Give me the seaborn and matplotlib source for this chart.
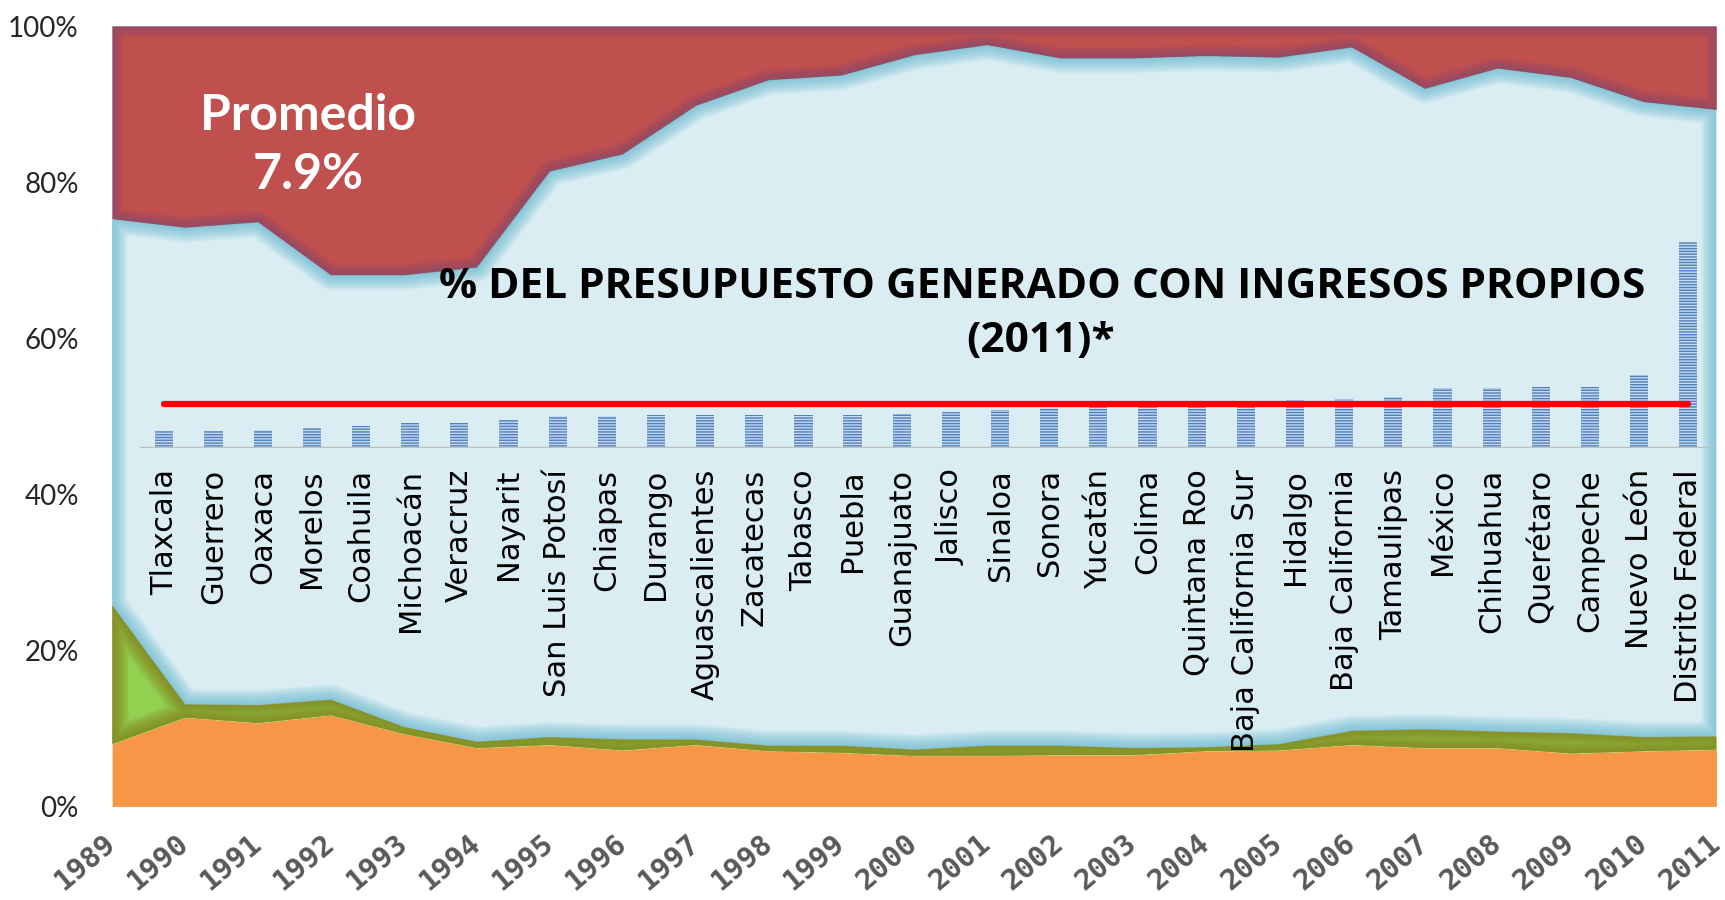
import numpy as np
import matplotlib
matplotlib.use("Agg")
from matplotlib import pyplot as plt
from matplotlib.patches import PathPatch
from matplotlib.ticker import PercentFormatter
import seaborn as sns

# shares of the budget by year (stacked to 100%)
years = list(range(1989, 2012))
orange = [8.0, 11.4, 10.7, 11.7, 9.3, 7.5, 7.9, 7.2, 7.9, 7.1, 6.9, 6.5,
          6.5, 6.6, 6.6, 7.1, 7.2, 7.9, 7.5, 7.5, 6.8, 7.1, 7.3]
green = [17.8, 1.7, 2.3, 2.0, 0.9, 0.8, 1.0, 1.4, 0.7, 0.7, 0.9, 0.8,
         1.3, 1.2, 0.9, 0.5, 0.8, 1.8, 2.4, 2.1, 2.6, 1.8, 1.7]
blue = [49.5, 61.1, 61.9, 54.4, 57.9, 60.8, 72.5, 75.0, 81.2, 85.3, 85.9, 89.0,
        89.8, 88.1, 88.4, 88.6, 88.0, 87.6, 82.1, 85.0, 84.0, 81.4, 80.3]
red = [24.7, 25.8, 25.1, 31.9, 31.9, 30.9, 18.6, 16.4, 10.2, 6.9, 6.3, 3.7,
       2.4, 4.1, 4.1, 3.8, 4.0, 2.7, 8.0, 5.4, 6.6, 9.7, 10.7]

# % del presupuesto generado con ingresos propios (2011)
states = ['Tlaxcala', 'Guerrero', 'Oaxaca', 'Morelos', 'Coahuila', 'Michoacán',
          'Veracruz', 'Nayarit', 'San Luis Potosí', 'Chiapas', 'Durango',
          'Aguascalientes', 'Zacatecas', 'Tabasco', 'Puebla', 'Guanajuato',
          'Jalisco', 'Sinaloa', 'Sonora', 'Yucatán', 'Colima', 'Quintana Roo',
          'Baja California Sur', 'Hidalgo', 'Baja California', 'Tamaulipas',
          'México', 'Chihuahua', 'Querétaro', 'Campeche', 'Nuevo León',
          'Distrito Federal']
own_income = [3.1, 3.1, 3.3, 3.7, 4.0, 4.6, 4.6, 5.0, 5.7, 5.8, 5.9, 5.9,
              5.9, 6.0, 6.0, 6.1, 6.5, 6.9, 7.3, 7.8, 7.9, 8.0, 8.4, 8.6,
              8.9, 9.2, 10.8, 10.8, 10.95, 10.95, 13.1, 37.1]

sns.set_theme(style='white')
plt.rcParams['font.family'] = ['DejaVu Sans']
plt.rcParams['hatch.linewidth'] = 1.0

fig = plt.figure(figsize=(17.25, 9), dpi=100)

# background: stacked area
ax = fig.add_axes([0.065, 0.104, 0.93, 0.867])
layers = ax.stackplot(years, orange, green, blue, red,
                      colors=['#F79646', '#92D050', '#DAEDF3', '#C0504D'], lw=0)


# soft inner shadow along each area's outline
def inner_glow(coll, color, alpha, max_w, steps=14):
    path = coll.get_paths()[0]
    for w in np.linspace(max_w, 1.5, steps):
        p = PathPatch(path, fill=False, edgecolor=color, lw=w, alpha=alpha,
                      joinstyle='round')
        ax.add_patch(p)
        p.set_clip_path(path, ax.transData)


inner_glow(layers[1], '#857f1c', 0.09, 24)
inner_glow(layers[2], '#62b8d0', 0.07, 22)
inner_glow(layers[3], '#7a4a80', 0.05, 16)

ax.set_xlim(1989, 2011)
ax.set_ylim(0, 100)
ax.set_yticks(range(0, 101, 20))
ax.yaxis.set_major_formatter(PercentFormatter(decimals=0))
ax.set_xticks(years)
ax.tick_params(axis='y', length=0, pad=24, labelsize=20)
ax.tick_params(axis='x', length=0, pad=24, labelsize=21)
for lab in ax.get_yticklabels():
    lab.set_family('Lato')
for lab in ax.get_xticklabels():
    lab.set_rotation(40)
    lab.set_ha('right')
    lab.set_va('center')
    lab.set_rotation_mode('anchor')
    lab.set_family('DejaVu Sans Mono')
    lab.set_fontweight('bold')
    lab.set_color('#595959')
for s in ax.spines.values():
    s.set_visible(False)

# inset bar chart
ax2 = fig.add_axes([0.081, 0.502, 0.912, 0.2475])
ax2.patch.set_alpha(0)
sns.barplot(x=states, y=own_income, ax=ax2, color='#c6d9f1', saturation=1,
            width=0.37, hatch='------', edgecolor='#4F81BD', linewidth=0)
avg = np.mean(own_income)
ax2.plot([0, len(states) - 1], [avg, avg], color='#FF0000', lw=4.5,
         solid_capstyle='round', zorder=4)
ax2.axhline(0, color='#BFBFBF', lw=2.5, zorder=3)
ax2.set_xlim(-0.5, len(states) - 0.5)
ax2.set_ylim(0, 40)
ax2.set_yticks([])
ax2.set_xlabel('')
ax2.set_ylabel('')
ax2.tick_params(axis='x', length=0, pad=15, labelsize=22, labelrotation=90,
                labelcolor='black')
for s in ax2.spines.values():
    s.set_visible(False)

# annotations
fig.text(0.1786, 0.872, 'Promedio', color='white', fontsize=36,
         fontweight='bold', family='Lato', ha='center', va='center')
fig.text(0.1786, 0.806, '7.9%', color='white', fontsize=36,
         fontweight='bold', family='Lato', ha='center', va='center')
fig.text(0.604, 0.680, '% DEL PRESUPUESTO GENERADO CON INGRESOS PROPIOS',
         fontsize=30.5, fontweight='bold', family='Open Sans', ha='center',
         va='center', color='black')
fig.text(0.603, 0.621, '(2011)*', fontsize=30.5, fontweight='bold',
         family='Open Sans', ha='center', va='center', color='black')

fig.savefig('out.png', dpi=100)
